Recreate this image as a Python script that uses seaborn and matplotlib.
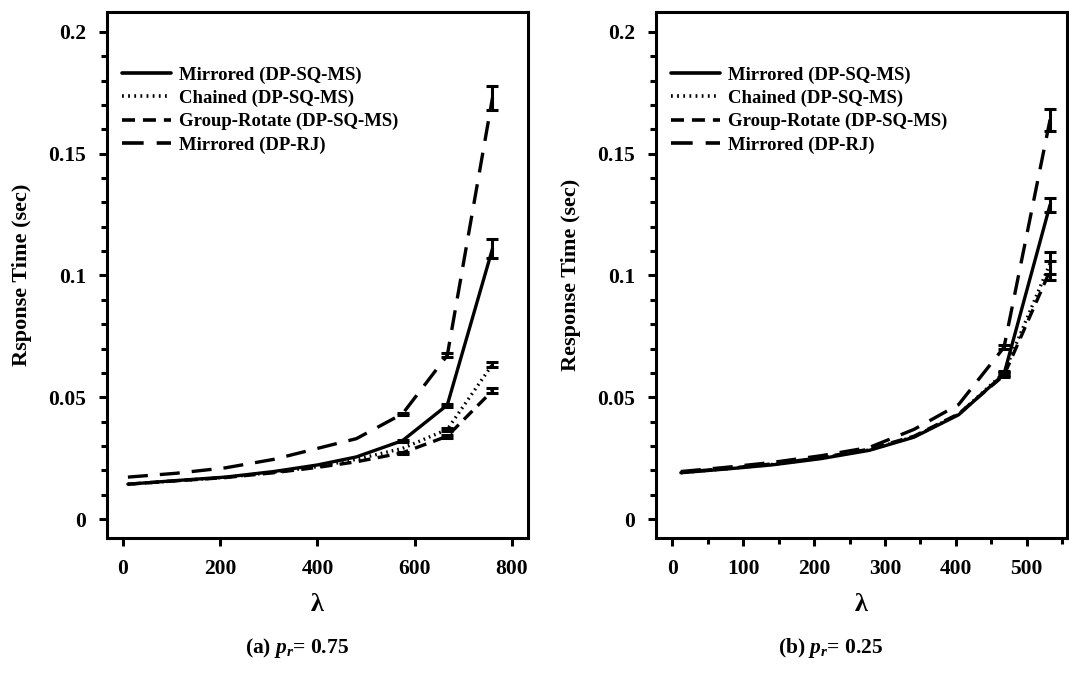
import numpy as np
import pandas as pd
import matplotlib
matplotlib.use("Agg")
import matplotlib.pyplot as plt
from matplotlib.ticker import FixedLocator
import seaborn as sns

# ---------------- data ----------------
series_names = ["Mirrored (DP-SQ-MS)", "Chained (DP-SQ-MS)",
                "Group-Rotate (DP-SQ-MS)", "Mirrored (DP-RJ)"]

lam_a = [10, 110, 210, 310, 400, 480, 575, 667, 760]
mirrored_a = [0.0143, 0.0158, 0.0172, 0.0195, 0.0222, 0.0255, 0.0322, 0.0468, 0.1110]
chained_a = [0.0143, 0.0157, 0.0171, 0.0192, 0.0215, 0.0245, 0.0290, 0.0368, 0.0635]
group_a = [0.0143, 0.0157, 0.0170, 0.0190, 0.0212, 0.0235, 0.0272, 0.0340, 0.0527]
rj_a = [0.0172, 0.0188, 0.0210, 0.0245, 0.0290, 0.0330, 0.0432, 0.0672, 0.1730]
err_mirrored_a = [0, 0, 0, 0, 0, 0, 0.0004, 0.0006, 0.0040]
err_chained_a = [0, 0, 0, 0, 0, 0, 0, 0.0006, 0.0010]
err_group_a = [0, 0, 0, 0, 0, 0, 0.0004, 0.0006, 0.0010]
err_rj_a = [0, 0, 0, 0, 0, 0, 0.0005, 0.0008, 0.0050]

lam_b = [12, 75, 140, 210, 278, 341, 404, 468, 533]
mirrored_b = [0.0190, 0.0205, 0.0222, 0.0248, 0.0282, 0.0336, 0.0428, 0.0595, 0.1290]
chained_b = [0.0190, 0.0206, 0.0224, 0.0250, 0.0284, 0.0338, 0.0430, 0.0600, 0.1050]
group_b = [0.0192, 0.0207, 0.0226, 0.0252, 0.0287, 0.0340, 0.0432, 0.0590, 0.1020]
rj_b = [0.0195, 0.0212, 0.0232, 0.0260, 0.0294, 0.0368, 0.0470, 0.0705, 0.1640]
err_mirrored_b = [0, 0, 0, 0, 0, 0, 0, 0.0008, 0.0030]
err_chained_b = [0, 0, 0, 0, 0, 0, 0, 0.0008, 0.0045]
err_group_b = [0, 0, 0, 0, 0, 0, 0, 0.0008, 0.0040]
err_rj_b = [0, 0, 0, 0, 0, 0, 0, 0.0008, 0.0045]

y_ticks = [0, 0.05, 0.1, 0.15, 0.2]
y_tick_labels = ["0", "0.05", "0.1", "0.15", "0.2"]
x_ticks_a = [0, 200, 400, 600, 800]
x_ticks_b = [0, 100, 200, 300, 400, 500]
ylabel_a = "Rsponse Time (sec)"
ylabel_b = "Response Time (sec)"
caption_a = r"(a) $p_r$= 0.75"
caption_b = r"(b) $p_r$= 0.25"

# ---------------- style ----------------
sns.set_theme(style="ticks")
plt.rcParams["font.family"] = ["Liberation Serif", "DejaVu Serif"]
plt.rcParams["font.weight"] = "bold"
plt.rcParams["axes.labelweight"] = "bold"
plt.rcParams["text.color"] = "black"
plt.rcParams["axes.labelcolor"] = "black"
plt.rcParams["xtick.color"] = "black"
plt.rcParams["ytick.color"] = "black"
plt.rcParams["mathtext.fontset"] = "custom"
plt.rcParams["mathtext.it"] = "Liberation Serif:italic:bold"
plt.rcParams["mathtext.rm"] = "Liberation Serif:bold"

dashes = {
    series_names[0]: "",
    series_names[1]: (0.5, 1.2),
    series_names[2]: (3.6, 2.2),
    series_names[3]: (6.0, 3.6),
}

fig = plt.figure(figsize=(10.69, 6.77), dpi=100)
ax_a = fig.add_axes([0.1001, 0.2053, 0.3938, 0.777])
ax_b = fig.add_axes([0.6137, 0.2053, 0.3845, 0.777])


def make_df(lam, ys):
    frames = []
    for name, y in zip(series_names, ys):
        frames.append(pd.DataFrame({"lam": lam, "rt": y, "series": name}))
    return pd.concat(frames, ignore_index=True)


panels = [
    (ax_a, lam_a, [mirrored_a, chained_a, group_a, rj_a],
     [err_mirrored_a, err_chained_a, err_group_a, err_rj_a],
     (-33, 833), x_ticks_a, None, ylabel_a),
    (ax_b, lam_b, [mirrored_b, chained_b, group_b, rj_b],
     [err_mirrored_b, err_chained_b, err_group_b, err_rj_b],
     (-23, 557), x_ticks_b, 50, ylabel_b),
]

for ax, lam, ys, errs, xlim, xt, xminor, ylab in panels:
    df = make_df(lam, ys)
    sns.lineplot(data=df, x="lam", y="rt", style="series", dashes=dashes,
                 color="black", linewidth=2.4, ax=ax, legend=True,
                 style_order=series_names)
    for y, e in zip(ys, errs):
        la = np.array(lam)
        ya = np.array(y)
        ea = np.array(e)
        m = ea > 0
        ax.errorbar(la[m], ya[m], yerr=ea[m], fmt="none", ecolor="black",
                    elinewidth=2.2, capsize=4, capthick=2.2)
    ax.set_xlim(*xlim)
    ax.set_ylim(-0.0078, 0.2082)
    ax.set_xticks(xt)
    if xminor:
        ax.xaxis.set_minor_locator(FixedLocator(np.arange(0, xlim[1], xminor)))
    ax.set_yticks(y_ticks)
    ax.set_yticklabels(y_tick_labels)
    ax.yaxis.set_minor_locator(FixedLocator(np.arange(0, 0.2001, 0.01)))
    ax.tick_params(which="major", direction="out", length=6, width=2.2,
                   labelsize=15.5, colors="black", pad=9)
    ax.tick_params(which="minor", direction="out", length=4, width=2.2,
                   colors="black")
    for sp in ax.spines.values():
        sp.set_visible(True)
        sp.set_linewidth(2.2)
        sp.set_color("black")
    ax.set_xlabel("λ", fontsize=19, labelpad=10, color="black")
    ax.set_ylabel(ylab, fontsize=16, labelpad=12, color="black")
    leg = ax.legend(loc="upper left", bbox_to_anchor=(0.0, 0.925),
                    frameon=False, fontsize=13.5, handlelength=2.6,
                    handletextpad=0.45, labelspacing=0.32, borderaxespad=0.4)
    for h in leg.get_lines():
        h.set_linewidth(2.6)
        h.set_color("black")
    for t in leg.get_texts():
        t.set_color("black")
    ax.set_facecolor("white")

fig.text(0.278, 0.043, caption_a, ha="center", va="center", fontsize=15.5,
         color="black")
fig.text(0.777, 0.043, caption_b, ha="center", va="center", fontsize=15.5,
         color="black")

fig.savefig("out.png", dpi=100, facecolor="white")
